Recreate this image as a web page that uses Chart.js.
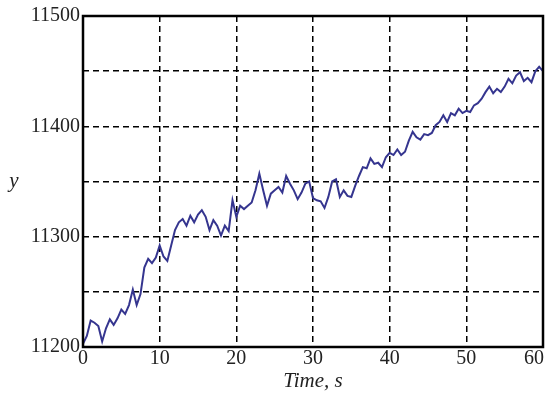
<!DOCTYPE html>
<html>
<head>
<meta charset="utf-8">
<script src="https://cdn.jsdelivr.net/npm/chart.js@4.4.0/dist/chart.umd.min.js"></script>
<style>
  html, body { margin: 0; padding: 0; background: #fff; }
  #wrap { width: 546px; height: 393px; }
</style>
</head>
<body>
<div id="wrap"><canvas id="plot"></canvas></div>
<script>
// time samples (s) and measured y values
const timeS = [];
for (let i = 0; i <= 120; i++) timeS.push(i * 0.5);

const yValues = [
  11203, 11210, 11224, 11222, 11219, 11205, 11217, 11225, 11220, 11226,
  11234, 11230, 11238, 11252, 11238, 11248, 11272, 11280, 11276, 11281,
  11292, 11282, 11278, 11292, 11306, 11313, 11316, 11310, 11319, 11313,
  11320, 11324, 11318, 11306, 11315, 11310, 11301, 11310, 11305, 11333,
  11318, 11328, 11325, 11328, 11331, 11342, 11357, 11342, 11328, 11339,
  11342, 11345, 11340, 11355, 11348, 11342, 11334, 11340, 11348, 11350,
  11335, 11333, 11332, 11326, 11336, 11350, 11352, 11336, 11342, 11337,
  11336, 11346, 11355, 11363, 11362, 11371, 11366, 11367, 11363, 11372,
  11376, 11374, 11379, 11374, 11377, 11387, 11395, 11390, 11388, 11393,
  11392, 11394, 11401, 11404, 11410, 11404, 11412, 11410, 11416, 11412,
  11414, 11413, 11419, 11421, 11425, 11431, 11436, 11430, 11434, 11431,
  11436, 11443, 11439, 11446, 11449, 11441, 11444, 11440, 11450, 11454,
  11450
];

const xTicks = [0, 10, 20, 30, 40, 50, 60];
const yTicks = [11200, 11300, 11400, 11500];
const xLabel = 'Time, s';
const yLabel = 'y';

const serif = '"Liberation Serif", "DejaVu Serif", serif';
const textColor = '#222';

// frame box, x tick labels and axis titles
const decor = {
  id: 'decor',
  afterDraw(chart) {
    const ctx = chart.ctx;
    const a = chart.chartArea;
    const xs = chart.scales.x;
    ctx.save();
    ctx.strokeStyle = '#000';
    ctx.lineWidth = 2.5;
    ctx.setLineDash([]);
    ctx.strokeRect(a.left, a.top, a.right - a.left, a.bottom - a.top);

    ctx.fillStyle = textColor;
    ctx.font = '20px ' + serif;
    ctx.textBaseline = 'top';
    ctx.textAlign = 'center';
    xTicks.forEach(v => {
      let px = xs.getPixelForValue(v);
      const w = ctx.measureText(String(v)).width;
      if (px + w / 2 > chart.width - 2) px = chart.width - 2 - w / 2;
      ctx.fillText(String(v), px, a.bottom + 2);
    });

    ctx.font = 'italic 21px ' + serif;
    ctx.textBaseline = 'middle';
    ctx.fillText(xLabel, (a.left + a.right) / 2, 381);
    ctx.fillText(yLabel, 14, (a.top + a.bottom) / 2);
    ctx.restore();
  }
};

new Chart(document.getElementById('plot'), {
  type: 'line',
  data: {
    datasets: [{
      data: timeS.map((t, i) => ({ x: t, y: yValues[i] })),
      borderColor: '#35358f',
      borderWidth: 2,
      pointRadius: 0,
      tension: 0,
      fill: false
    }]
  },
  options: {
    responsive: true,
    maintainAspectRatio: false,
    animation: false,
    layout: { padding: { top: 16, right: 3, left: 0, bottom: 0 }, autoPadding: false },
    plugins: { legend: { display: false }, tooltip: { enabled: false } },
    scales: {
      x: {
        type: 'linear',
        min: 0,
        max: 60,
        ticks: { display: false, stepSize: 10 },
        grid: { color: '#000', lineWidth: 1.5, drawTicks: false },
        border: { display: false, dash: [6, 4] },
        afterFit(s) { s.height = 46; }
      },
      y: {
        min: 11200,
        max: 11500,
        ticks: {
          stepSize: 50,
          padding: 3,
          color: textColor,
          font: { family: serif, size: 20 },
          callback: v => yTicks.includes(v) ? String(v) : ''
        },
        grid: { color: '#000', lineWidth: 1.5, drawTicks: false },
        border: { display: false, dash: [6, 4] },
        afterFit(s) { s.width = 83; }
      }
    }
  },
  plugins: [decor]
});
</script>
</body>
</html>
